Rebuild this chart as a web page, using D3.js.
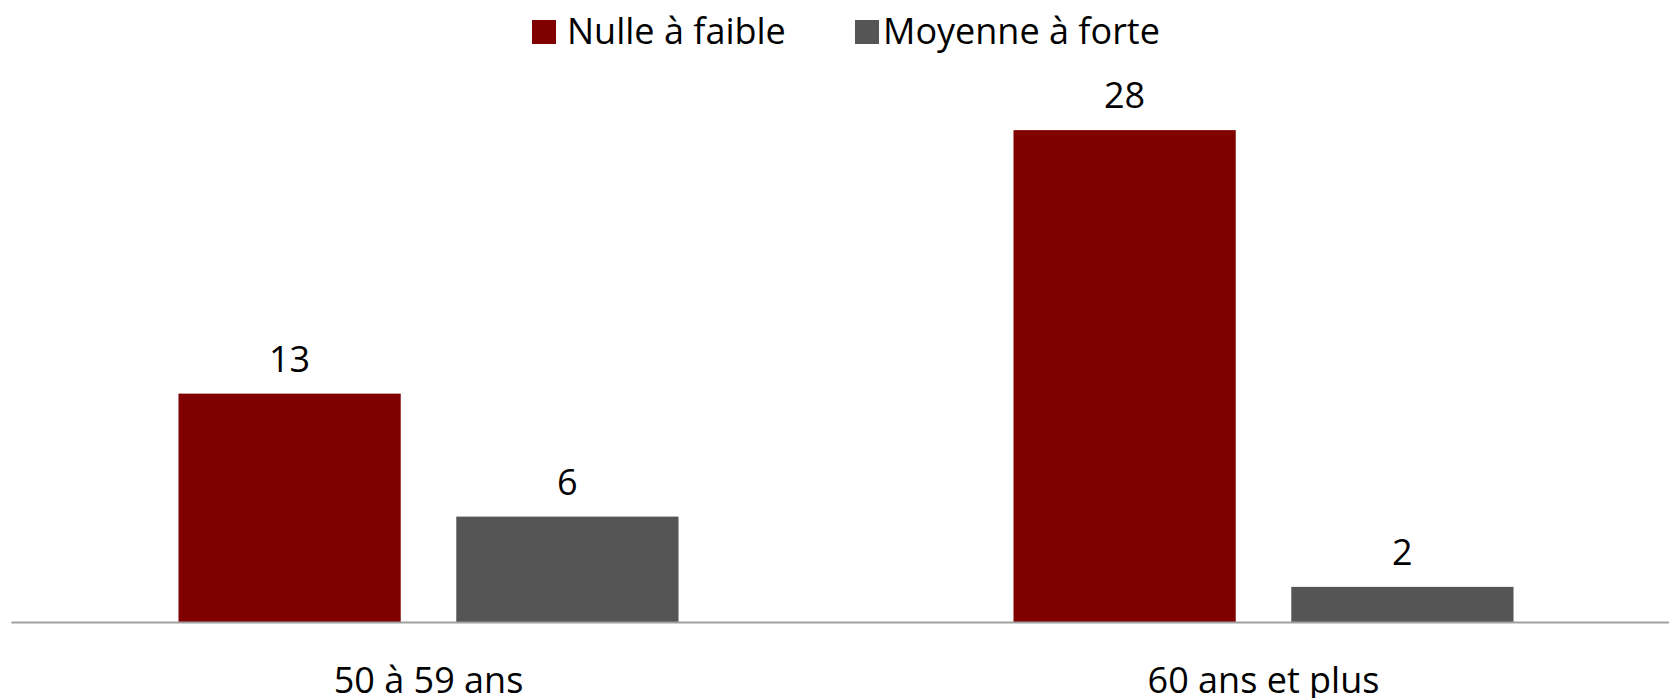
<!DOCTYPE html>
<html>
<head>
<meta charset="utf-8">
<script src="https://cdn.jsdelivr.net/npm/d3@7"></script>
<style>
  body { margin: 0; background: #fff; }
  svg { display: block; font-family: "Open Sans", Lato, sans-serif; }
</style>
</head>
<body>
<svg id="chart" width="1669" height="698"></svg>
<script>
// --- Data ---
const categories = ["50 à 59 ans", "60 ans et plus"];
const series = ["Nulle à faible", "Moyenne à forte"];
const nulleFaible = [13, 28];
const moyenneForte = [6, 2];
const colors = ["#800000", "#555555"];

const values = [nulleFaible, moyenneForte];
const rows = categories.map((c, i) => ({
    cat: c,
    vals: series.map((s, j) => ({ series: s, idx: j, value: values[j][i] }))
}));

// --- Setup ---
const svg = d3.select("#chart");
const fontSize = 36;

const x0 = d3.scaleBand().domain(categories).range([11, 1681]);
const x1 = d3.scaleBand().domain(series).range([167.5, 667.5]).paddingInner(0.2);
const y = d3.scaleLinear().domain([0, 30]).range([622, 95]);
const color = d3.scaleOrdinal().domain(series).range(colors);

// bars
const groups = svg.append("g").selectAll("g")
    .data(rows)
    .join("g")
    .attr("transform", d => `translate(${x0(d.cat)},0)`);

groups.selectAll("rect")
    .data(d => d.vals)
    .join("rect")
    .attr("x", d => x1(d.series))
    .attr("y", d => y(d.value))
    .attr("width", x1.bandwidth())
    .attr("height", d => y(0) - y(d.value))
    .attr("fill", d => color(d.series));

// value labels
groups.selectAll("text")
    .data(d => d.vals)
    .join("text")
    .attr("x", d => x1(d.series) + x1.bandwidth() / 2)
    .attr("y", d => y(d.value) - 22)
    .attr("text-anchor", "middle")
    .attr("font-size", fontSize)
    .attr("fill", "#000")
    .text(d => d.value);

// x axis
const xAxis = svg.append("g")
    .attr("transform", `translate(0,${y(0)})`)
    .call(d3.axisBottom(x0).tickSize(0).tickPadding(45));
xAxis.select(".domain").attr("stroke", "#a0a0a0").attr("stroke-width", 2);
xAxis.selectAll("text")
    .attr("font-size", fontSize)
    .attr("font-family", "'Open Sans', Lato, sans-serif")
    .attr("fill", "#000");

// --- Legend ---
const legendItems = [
    { name: series[0], x: 532, tx: 567 },
    { name: series[1], x: 855, tx: 883 }
];
const legend = svg.append("g").selectAll("g")
    .data(legendItems)
    .join("g");
legend.append("rect")
    .attr("x", d => d.x)
    .attr("y", 20)
    .attr("width", 24)
    .attr("height", 24)
    .attr("fill", d => color(d.name));
legend.append("text")
    .attr("x", d => d.tx)
    .attr("y", 44)
    .attr("font-size", fontSize)
    .attr("fill", "#000")
    .text(d => d.name);
</script>
</body>
</html>
